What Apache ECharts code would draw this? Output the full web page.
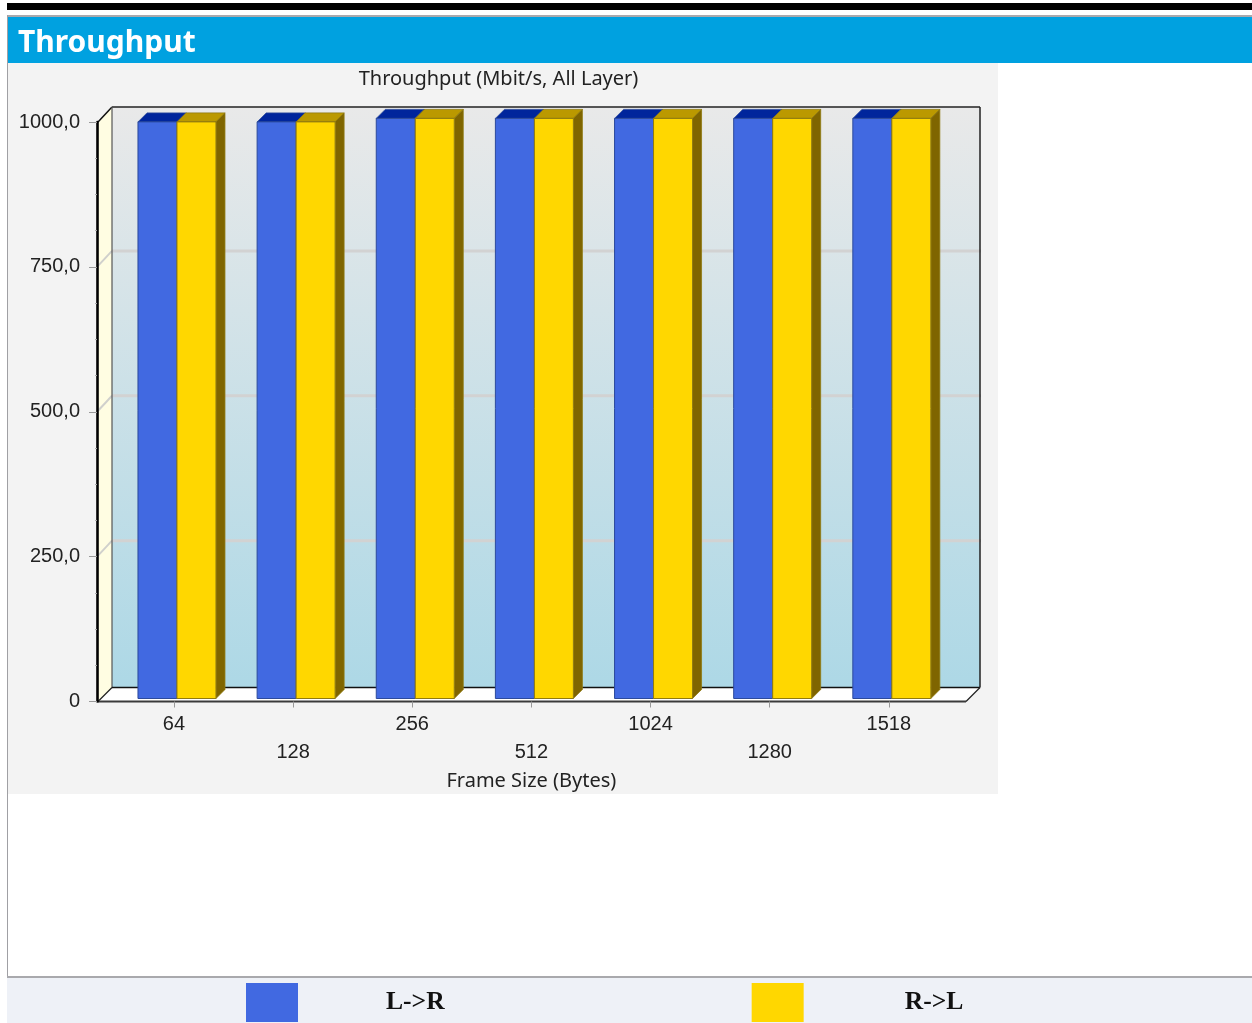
<!DOCTYPE html>
<html><head><meta charset="utf-8">
<script src="https://cdn.jsdelivr.net/npm/echarts@6/dist/echarts.min.js"></script>
<style>
html,body{margin:0;padding:0;background:#fff;overflow:hidden}
#page{position:relative;width:1252px;height:1023px;overflow:hidden}
.c{position:absolute}
#chart{position:absolute;left:0;top:0;width:1252px;height:1023px}
</style></head><body>
<div id="page">
<div class="c" style="left:7px;top:3px;width:1245px;height:7px;background:#000"></div>
<div class="c" style="left:7px;top:15px;width:1245px;height:2px;background:#a9a9ad"></div>
<div class="c" style="left:7px;top:15px;width:1px;height:963px;background:#a0a0a4"></div>
<div class="c" style="left:7px;top:976px;width:1245px;height:2px;background:#a9a9ad"></div>
<div class="c" style="left:8px;top:17px;width:1244px;height:46px;background:#00a1e0"></div>
<div class="c" style="left:8px;top:63px;width:990px;height:731px;background:#f3f3f3"></div>
<div class="c" style="left:7px;top:978px;width:1245px;height:45px;background:#eef1f7"></div>
<div id="chart"></div>
</div>
<script>
const categories = ['64','128','256','512','1024','1280','1518'];
const lToR = [994,994,1000,1000,1000,1000,1000];
const rToL = [994,994,1000,1000,1000,1000,1000];
const yTicks = [250,500,750];
const seriesNames = ['L->R','R->L'];

const WALL = 14, BAR_INSET = 3, BAR_TOP_LIFT = 0.6, BAR_DEPTH = 9;
const chart = echarts.init(document.getElementById('chart'), null, {renderer:'canvas'});

function poly(points, fill, stroke, lw){
  return {type:'polygon', shape:{points}, style:{fill, stroke:stroke||null, lineWidth:lw||0}};
}
function line(a,b,stroke,lw){
  return {type:'line', shape:{x1:a[0],y1:a[1],x2:b[0],y2:b[1]}, style:{stroke,lineWidth:lw}};
}
function renderWalls(params, api){
  const L = 98, R = 966;
  const y0 = api.coord([0,0])[1], yTop = api.coord([0,1000])[1];
  const bx0 = L+WALL, bx1 = R+WALL, by0 = y0-WALL, byTop = yTop-WALL-1;
  const kids = [];
  kids.push(poly([[bx0,byTop],[bx1,byTop],[bx1,by0],[bx0,by0]],
    new echarts.graphic.LinearGradient(0,0,0,1,[{offset:0,color:'#e9e9e9'},{offset:1,color:'#add8e6'}])));
  kids.push(poly([[L,yTop],[bx0,byTop],[bx0,by0],[L,y0]],'#fffde2'));
  kids.push(poly([[L,y0],[bx0,by0],[bx1,by0],[R,y0]],'#ffffff'));
  yTicks.forEach(v=>{
    const y = api.coord([0,v])[1];
    kids.push(line([L,y-1],[bx0,y-WALL-2],'#d0d0cc',2));
    kids.push(line([bx0,y-WALL-2],[bx1+1,y-WALL-2],'#d2d2d2',3));
  });
  kids.push(line([L,yTop],[bx0,byTop],'#111',1.5));
  kids.push(line([bx0,byTop],[bx1,byTop],'#222',1.5));
  kids.push(line([bx0,byTop],[bx0,by0],'#555',1.2));
  kids.push(line([bx1,byTop],[bx1,by0],'#222',1.5));
  kids.push(line([bx0,by0],[bx1,by0],'#111',1.5));
  kids.push(line([L,y0],[bx0,by0],'#222',1.2));
  kids.push(line([R,y0],[bx1,by0],'#222',1.2));
  kids.push(line([L,y0],[R,y0],'#3a3a3a',1.8));
  return {type:'group', children:kids};
}
function barRenderer(x0, x1, face, top, side, edge){
  return function(params, api){
    const c = api.coord([api.value(0), api.value(1)]);
    const base = api.coord([api.value(0), 0])[1] - BAR_INSET;
    const t = c[1] - BAR_INSET - BAR_TOP_LIFT;
    const l = c[0] + x0, r = c[0] + x1, d = BAR_DEPTH;
    return {type:'group', children:[
      poly([[l,t],[r,t],[r+d,t-d],[l+d,t-d]], top, edge, 0.8),
      poly([[r,t],[r+d,t-d],[r+d,base-d],[r,base]], side, edge, 0.8),
      poly([[l,t],[r,t],[r,base],[l,base]], face, edge, 1)
    ]};
  };
}
chart.setOption({
  animation:false,
  backgroundColor:'transparent',
  title:[
    {text:'Throughput', left:13, top:23, textStyle:{color:'#fff',fontFamily:'"Noto Sans"',fontWeight:'bold',fontSize:30}},
    {text:'Throughput (Mbit/s, All Layer)', left:493.5, top:64, textAlign:'center', textStyle:{color:'#222',fontFamily:'"Noto Sans"',fontWeight:'normal',fontSize:20}}
  ],
  legend:{
    data:[
      {name:seriesNames[0], textStyle:{padding:[0,0,0,83]}},
      {name:seriesNames[1], textStyle:{padding:[0,0,0,96]}}
    ],
    left:241, top:978, itemWidth:52, itemHeight:39, itemGap:307, icon:'rect',
    selectedMode:false,
    textStyle:{fontFamily:'"Liberation Serif"',fontWeight:'bold',fontSize:25.6,color:'#111'}
  },
  grid:{left:114.4, top:122, width:834, height:579.5},
  xAxis:{
    type:'category', data:categories, name:'Frame Size (Bytes)', nameLocation:'middle', nameGap:64,
    nameTextStyle:{fontFamily:'"Noto Sans"',fontSize:20,color:'#222'},
    axisLine:{show:false},
    axisTick:{show:true,alignWithLabel:true,length:6,lineStyle:{color:'#999',width:1}},
    axisLabel:{interval:0,margin:9,fontFamily:'"Liberation Sans"',fontSize:20,color:'#222',lineHeight:28,
      formatter:(v,i)=> i%2 ? '\n'+v : v},
    z:5
  },
  yAxis:{
    type:'value', min:0, max:1000, interval:250, offset:17.4,
    axisLine:{show:true,lineStyle:{color:'#000',width:2.6}},
    axisTick:{show:true,length:8,lineStyle:{color:'#999',width:1}},
    minorTick:{show:true,splitNumber:4,length:2,lineStyle:{color:'#aaa',width:1}},
    splitLine:{show:false},
    axisLabel:{margin:17,padding:[0,0,3,0],fontFamily:'"Liberation Sans"',fontSize:20,color:'#222',
      formatter:v=> v===0 ? '0' : v.toFixed(1).replace('.',',')},
    z:5
  },
  series:[
    {type:'custom', name:'walls', coordinateSystem:'cartesian2d', data:[[0,0]], renderItem:renderWalls, silent:true, z:1, clip:false, encode:{x:0,y:1}},
    {type:'custom', name:seriesNames[0], coordinateSystem:'cartesian2d', itemStyle:{color:'#4169e1'},
     data:lToR.map((v,i)=>[i,v]), renderItem:barRenderer(-36,3,'#4169e1','#00259c','#00259c','#2c4a9c'), z:2, clip:false, encode:{x:0,y:1}},
    {type:'custom', name:seriesNames[1], coordinateSystem:'cartesian2d', itemStyle:{color:'#ffd700'},
     data:rToL.map((v,i)=>[i,v]), renderItem:barRenderer(3,42,'#ffd700','#bb9900','#7f6500','#8f7a10'), z:3, clip:false, encode:{x:0,y:1}}
  ]
});
</script>
</body></html>
